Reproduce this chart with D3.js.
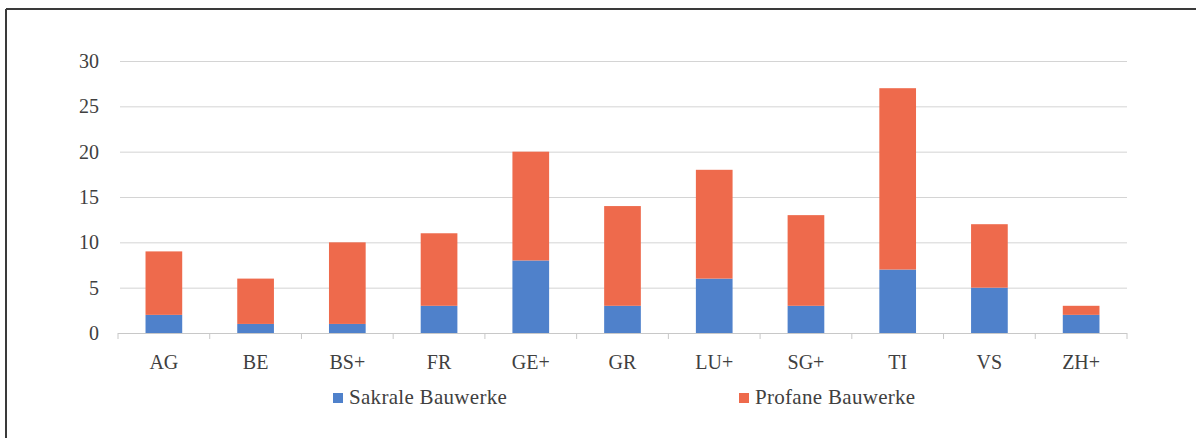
<!DOCTYPE html>
<meta charset="utf-8">
<style>
body { margin: 0; background: #fff; }
text { font-family: "Liberation Serif", "DejaVu Serif", serif; fill: #404040; }
.grid line { stroke: #d4d4d4; stroke-width: 1px; }
.axis path, .axis line { stroke: #c8c8c8; }
</style>
<svg width="1196" height="438"></svg>
<script src="https://cdn.jsdelivr.net/npm/d3@7"></script>
<script>

var categories = ["AG", "BE", "BS+", "FR", "GE+", "GR", "LU+", "SG+", "TI", "VS", "ZH+"];
var sakrale = [2, 1, 1, 3, 8, 3, 6, 3, 7, 5, 2];
var profane = [7, 5, 9, 8, 12, 11, 12, 10, 20, 7, 1];
var yTicks = [0, 5, 10, 15, 20, 25, 30];
var seriesNames = ["Sakrale Bauwerke", "Profane Bauwerke"];
var colors = ["#4f81cb", "#ee6a4c"];

var svg = d3.select("svg");

// frame (top and left edge only, as in the scan)
svg.append("line").attr("x1", 6).attr("x2", 1196).attr("y1", 9).attr("y2", 9)
    .attr("stroke", "#3a3a3a").attr("stroke-width", 2);
svg.append("line").attr("x1", 6).attr("x2", 6).attr("y1", 9).attr("y2", 438)
    .attr("stroke", "#3a3a3a").attr("stroke-width", 2);

var x = d3.scaleBand().domain(categories).range([118, 1127]).paddingInner(0.6).paddingOuter(0.3);
var y = d3.scaleLinear().domain([0, 30]).range([333, 61]);

var data = categories.map(function(c, i) {
  return {cat: c, sakrale: sakrale[i], profane: profane[i]};
});
var stack = d3.stack().keys(["sakrale", "profane"])(data);

// gridlines
svg.append("g").attr("class", "grid")
  .selectAll("line")
  .data(yTicks.filter(function(d) { return d > 0; }))
  .enter().append("line")
    .attr("x1", 120).attr("x2", 1127)
    .attr("y1", function(d) { return y(d) + 0.5; })
    .attr("y2", function(d) { return y(d) + 0.5; });

// y labels
svg.append("g").selectAll("text")
  .data(yTicks)
  .enter().append("text")
    .attr("x", 99)
    .attr("y", function(d) { return y(d) + 7; })
    .attr("text-anchor", "end")
    .style("font-size", "20px")
    .text(function(d) { return d; });

// bars
svg.append("g").selectAll("g")
  .data(stack)
  .enter().append("g")
    .attr("fill", function(d, i) { return colors[i]; })
  .selectAll("rect")
  .data(function(d) { return d; })
  .enter().append("rect")
    .attr("x", function(d) { return x(d.data.cat); })
    .attr("width", x.bandwidth())
    .attr("y", function(d) { return y(d[1]); })
    .attr("height", function(d) { return y(d[0]) - y(d[1]); });

// x axis
var bounds = d3.range(categories.length + 1).map(function(i) { return 118 + i * (1127 - 118) / categories.length; });
var ax = svg.append("g").attr("class", "axis");
ax.append("line").attr("x1", 118).attr("x2", 1127).attr("y1", 333.5).attr("y2", 333.5);
ax.selectAll(".tk").data(bounds).enter().append("line").attr("class", "tk")
    .attr("x1", function(d) { return d; }).attr("x2", function(d) { return d; })
    .attr("y1", 333).attr("y2", 339);
ax.selectAll("text").data(categories).enter().append("text")
    .attr("x", function(d) { return x(d) + x.bandwidth() / 2; })
    .attr("y", 369)
    .attr("text-anchor", "middle")
    .style("font-size", "20px")
    .text(function(d) { return d; });

// legend
var legendX = [333, 739];
var lg = svg.append("g").selectAll("g")
  .data(seriesNames)
  .enter().append("g")
    .attr("transform", function(d, i) { return "translate(" + legendX[i] + ",393)"; });
lg.append("rect").attr("width", 10).attr("height", 10)
    .attr("fill", function(d, i) { return colors[i]; });
lg.append("text").attr("x", 16).attr("y", 11)
    .style("font-size", "21px")
    .style("letter-spacing", "0.3px")
    .text(function(d) { return d; });

</script>
